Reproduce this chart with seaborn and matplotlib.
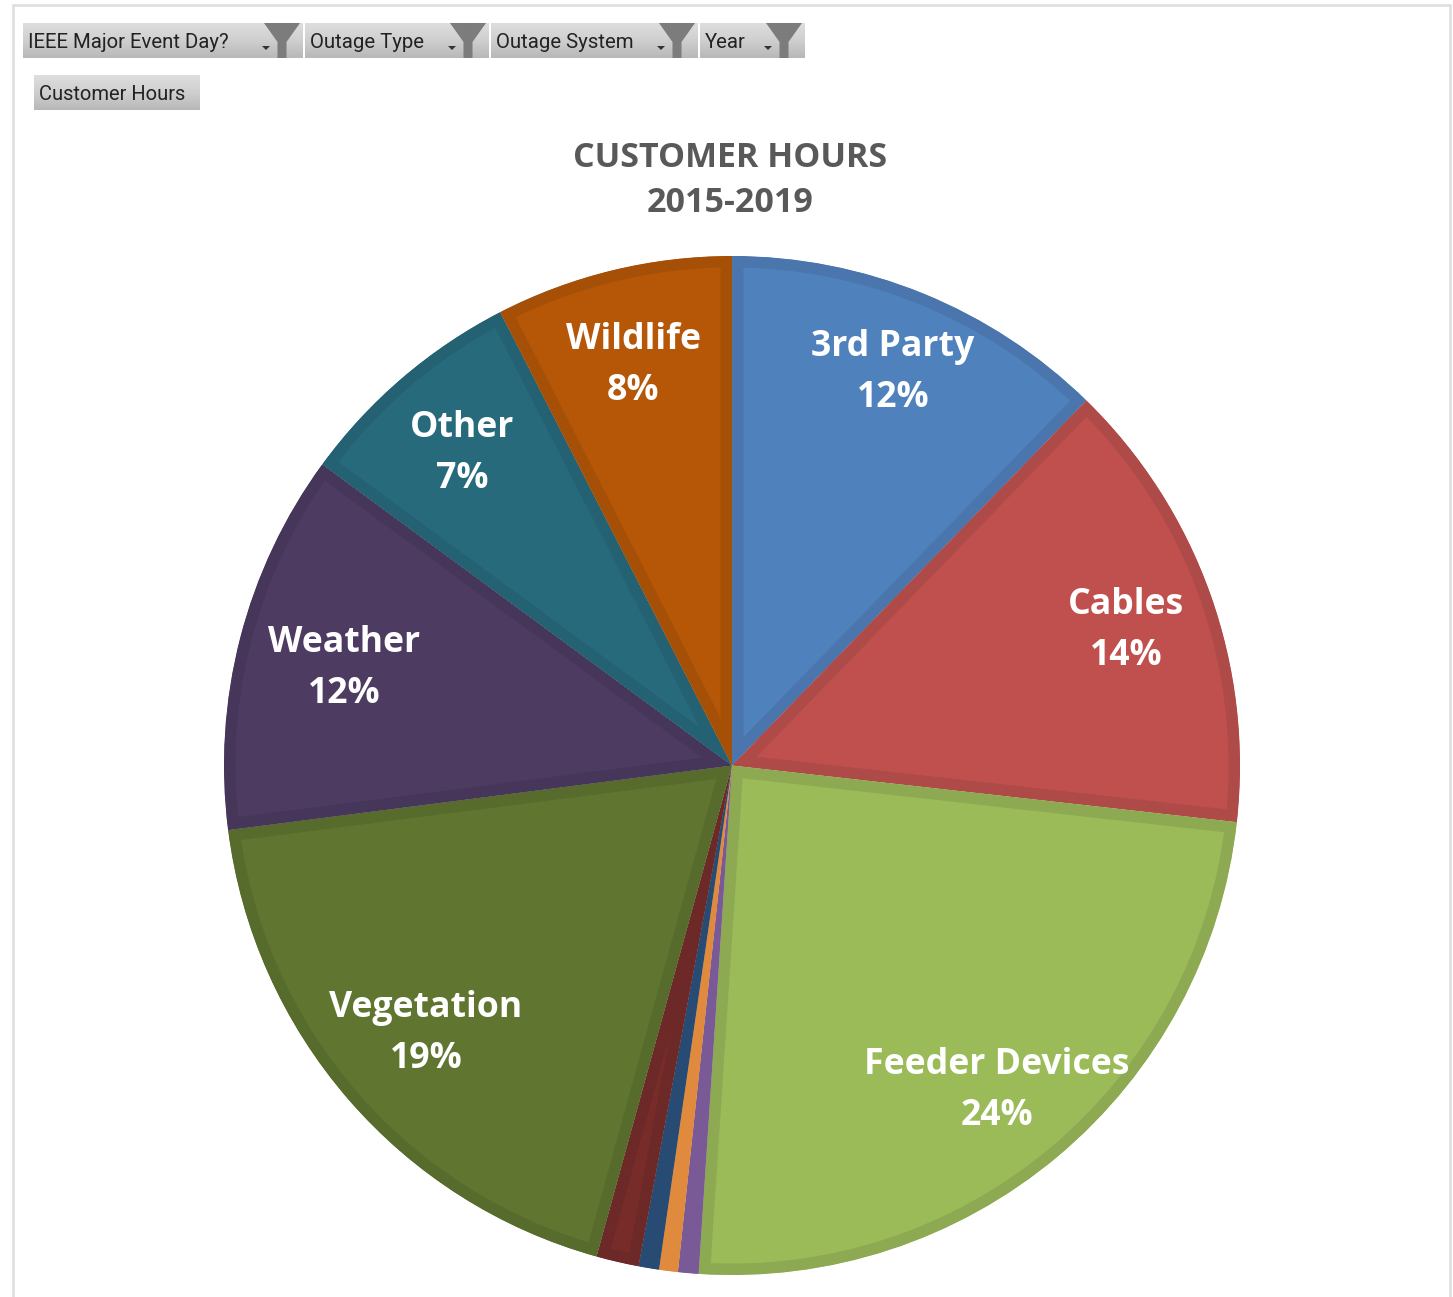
import numpy as np
import matplotlib
matplotlib.use("Agg")
import matplotlib.pyplot as plt
from matplotlib.patches import Polygon
import seaborn as sns

# Share of customer hours by outage cause, clockwise from twelve o'clock
causes = ["3rd Party", "Cables", "Feeder Devices", "Small A", "Small B", "Small C",
          "Small D", "Vegetation", "Weather", "Other", "Wildlife"]
shares = [12.3, 14.5, 24.3, 0.65, 0.6, 0.65, 1.35, 18.7, 12.1, 7.4, 7.55]
fill_hex = ["#4F81BD", "#C0504D", "#9BBB59", "#7A5A96", "#E08A3E", "#274B72",
            "#772C2A", "#5F7530", "#4D3B62", "#276A7C", "#B65708"]
edge_hex = ["#4A76AD", "#AE4A47", "#8DAA52", "#7A5A96", "#E08A3E", "#274B72",
            "#6C2927", "#566B2C", "#46365A", "#246172", "#A65007"]

# Only the larger slices carry a label; centre of each label in pixels
labelled = ["3rd Party", "Cables", "Feeder Devices", "Vegetation", "Weather", "Other", "Wildlife"]
pct_text = ["12%", "14%", "24%", "19%", "12%", "7%", "8%"]
label_x = [893, 1126, 997, 426, 344, 462, 633]
label_y = [369, 627, 1087, 1030, 665, 450, 362]

filter_names = ["IEEE Major Event Day?", "Outage Type", "Outage System", "Year"]
filter_spans = [(23, 303), (305, 489), (491, 698), (700, 805)]

W, H = 1453, 1297
sns.set_theme(style="white")
plt.rcParams["font.family"] = ["Open Sans", "DejaVu Sans"]

fig = plt.figure(figsize=(W / 100, H / 100), dpi=100, facecolor="white")

# Pixel-addressed layer for the frame, filter buttons and text
page = fig.add_axes([0, 0, 1, 1], zorder=3)
page.set_xlim(0, W)
page.set_ylim(H, 0)
page.axis("off")
page.patch.set_alpha(0)

frame = "#E0E0E0"
page.plot([13, 13, 1450, 1450], [H, 5, 5, H], color=frame, lw=2.0, solid_joinstyle="miter")

shade = np.linspace(0, 1, 64)[:, None]
cmap = sns.blend_palette(["#DEDEDE", "#CFCFCF", "#B8B8B8"], as_cmap=True)
button_font = ["Roboto", "DejaVu Sans"]


def button(x0, x1, y0, y1):
    page.imshow(shade, extent=(x0, x1, y1, y0), cmap=cmap, aspect="auto", zorder=1)


def funnel(x_mid, top):
    page.add_patch(Polygon([(x_mid - 18, top), (x_mid + 18, top), (x_mid + 4.5, top + 19),
                            (x_mid + 4.5, top + 35), (x_mid - 4.5, top + 35), (x_mid - 4.5, top + 19)],
                           closed=True, fc="#7C7C7C", ec="none", zorder=2))


for name, (x0, x1) in zip(filter_names, filter_spans):
    button(x0, x1, 23, 58)
    page.text(x0 + 5, 42, name, fontsize=14.7, color="#222222", va="center", ha="left",
              family=button_font, zorder=3)
    funnel(x1 - 21, 23)
    page.add_patch(Polygon([(x1 - 41, 46), (x1 - 33, 46), (x1 - 37, 50)], closed=True,
                           fc="#333333", ec="none", zorder=3))

button(34, 200, 75, 110)
page.text(39, 94, "Customer Hours", fontsize=14.5, color="#222222", va="center", ha="left",
          family=button_font, zorder=3)
page.set_xlim(0, W)
page.set_ylim(H, 0)

page.text(730.5, 158, "CUSTOMER HOURS", fontsize=24.5, fontweight="bold", color="#595959",
          ha="center", va="center")
page.text(730.5, 203, "2015-2019", fontsize=24.5, fontweight="bold", color="#595959",
          ha="center", va="center")

for name, pct, x, y in zip(labelled, pct_text, label_x, label_y):
    page.text(x, y - 22, name, fontsize=25.7, fontweight="bold", color="white", ha="center", va="center")
    page.text(x, y + 29, pct, fontsize=25.7, fontweight="bold", color="white", ha="center", va="center")

# Pie axes span the full circle so the radius is set by the axes box
left, right, top, bottom = 224, 1240, 256, 1275
ax = fig.add_axes([left / W, 1 - bottom / H, (right - left) / W, (bottom - top) / H], zorder=2)
wedges, _ = ax.pie(shares, colors=sns.color_palette(fill_hex), startangle=90, counterclock=False,
                   radius=1, wedgeprops={"linewidth": 0})
ax.set_aspect("auto")
ax.set_xlim(-1, 1)
ax.set_ylim(-1, 1)
ax.axis("off")

# Darker band along each slice's inside edge: a wide stroke clipped to the wedge itself
for wedge, edge in zip(wedges, sns.color_palette(edge_hex)):
    wedge.set_edgecolor(edge)
    wedge.set_linewidth(16.5)
    wedge.set_joinstyle("miter")
    wedge.set_clip_on(True)
    wedge.set_clip_path(wedge.get_path(), wedge.get_transform())

fig.savefig("out.png", dpi=100, facecolor="white")
